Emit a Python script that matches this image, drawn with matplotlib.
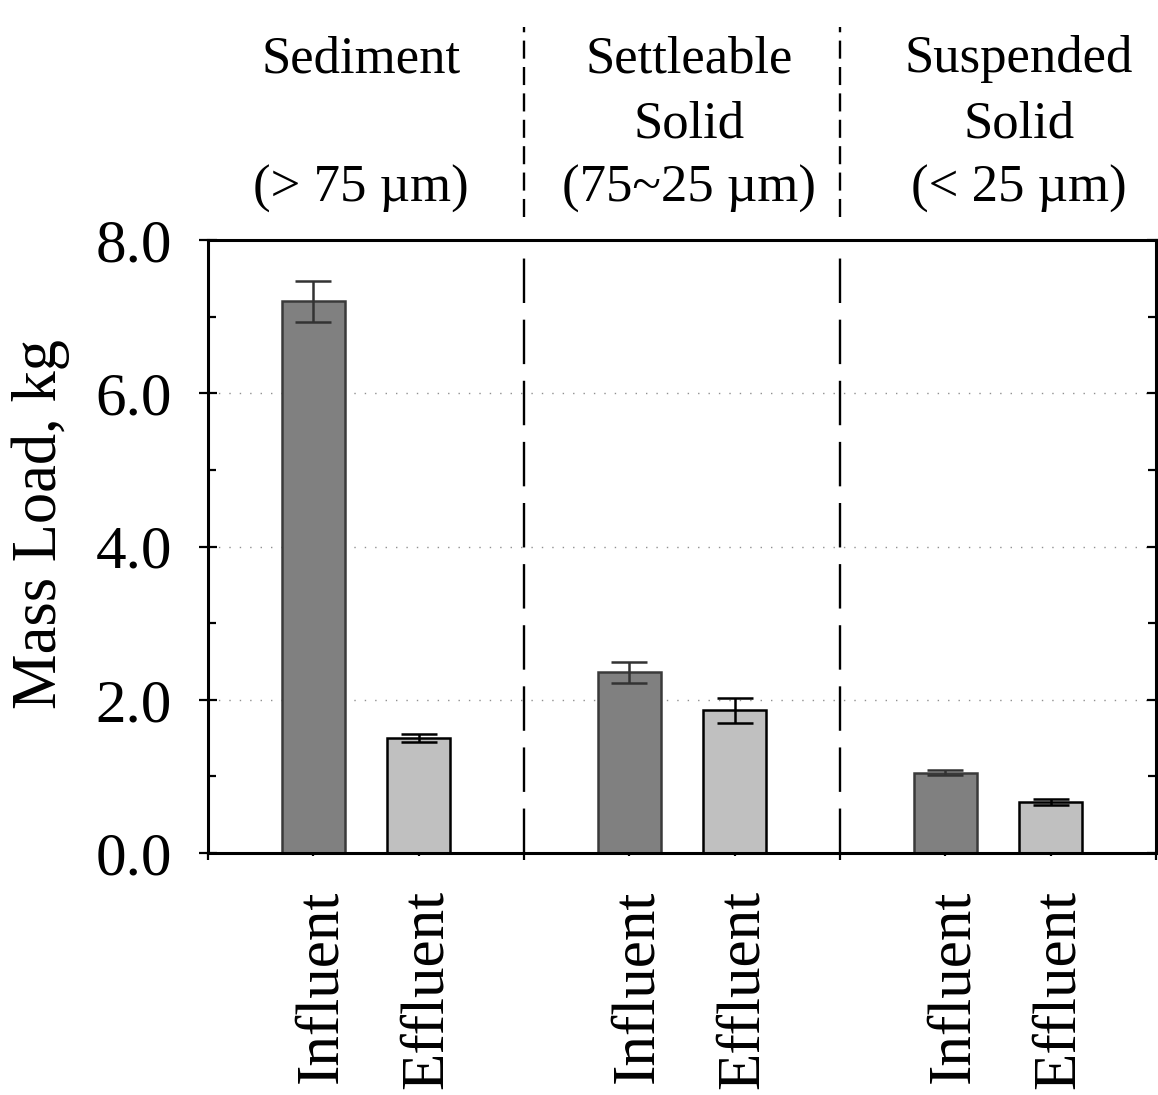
"""Mass load of sediment / settleable / suspended solids, influent vs effluent."""

import matplotlib

matplotlib.use("Agg")
import matplotlib.pyplot as plt
from matplotlib.transforms import ScaledTranslation

plt.rcParams["font.family"] = "serif"
plt.rcParams["font.serif"] = ["Liberation Serif", "DejaVu Serif"]
plt.rcParams["lines.scale_dashes"] = False

# data
groups = ["Sediment\n\n(> 75 µm)", "Settleable\nSolid\n(75~25 µm)", "Suspended\nSolid\n(< 25 µm)"]
sample_labels = ["Influent", "Effluent"]
influent = [7.20, 2.36, 1.05]
influent_err = [0.27, 0.135, 0.03]
effluent = [1.50, 1.86, 0.67]
effluent_err = [0.05, 0.16, 0.04]
y_ticks = [0.0, 2.0, 4.0, 6.0, 8.0]

INF_COLOR, INF_EDGE = "#808080", "#3a3a3a"
EFF_COLOR, EFF_EDGE = "#c0c0c0", "#000000"

fig = plt.figure(figsize=(11.58, 10.95), dpi=100)
ax = fig.add_axes([208 / 1158, 1 - 853 / 1095, 948 / 1158, 613 / 1095])

x_inf = [3 * i + 1 for i in range(len(groups))]
x_eff = [3 * i + 2 for i in range(len(groups))]

ax.bar(x_inf, influent, width=0.6, color=INF_COLOR, edgecolor=INF_EDGE, lw=1.8,
       yerr=influent_err, zorder=2,
       error_kw=dict(ecolor="#333333", elinewidth=1.8, capsize=13, capthick=1.8))
ax.bar(x_eff, effluent, width=0.6, color=EFF_COLOR, edgecolor=EFF_EDGE, lw=1.8,
       yerr=effluent_err, zorder=2,
       error_kw=dict(ecolor="#000000", elinewidth=1.8, capsize=13, capthick=1.8))

ax.set_xlim(0, 9)
ax.set_ylim(0, 8)

# group separators inside the plot and through the header area
for xb in (3, 6):
    ax.axvline(xb, color="black", lw=1.7, dashes=(32, 12), zorder=1)
    ax.plot([xb, xb], [1.0375, 1.347], transform=ax.get_xaxis_transform(),
            color="black", lw=1.7, dashes=(13, 6), clip_on=False)

# group headers, one line at a time
header_x = [1.45, 4.57, 7.70]
line_y = [1.274, 1.168, 1.062]
for gx, name in zip(header_x, groups):
    for ly, line in zip(line_y, name.split("\n")):
        if line:
            ax.text(gx, ly, line, transform=ax.get_xaxis_transform(),
                    ha="center", va="baseline", fontsize=38)

# y axis
ax.set_yticks(y_ticks, [f"{v:.1f}" for v in y_ticks])
ax.set_yticks([1, 3, 5, 7], minor=True)
ax.tick_params(axis="y", which="major", direction="inout", length=13, width=1.6,
               labelsize=44, pad=19.5, right=True)
ax.tick_params(axis="y", which="minor", direction="in", length=6, width=1.6, right=True)
ax.set_ylabel("Mass Load, kg", fontsize=45)
ax.yaxis.set_label_coords(-0.1456, 0.537)

# x axis: boundaries as major ticks, bar centres as labelled minor ticks
ax.set_xticks([0, 3, 6, 9], [])
ax.set_xticks(x_inf + x_eff, [sample_labels[0]] * 3 + [sample_labels[1]] * 3, minor=True)
ax.tick_params(axis="x", which="major", direction="out", length=5, width=1.6)
ax.tick_params(axis="x", which="minor", direction="out", length=2, width=1.6,
               labelsize=44, pad=24.5, labelrotation=90)
shift = ScaledTranslation(8 / 100, 0, fig.dpi_scale_trans)
for lbl in ax.get_xticklabels(minor=True):
    lbl.set_transform(lbl.get_transform() + shift)

ax.grid(axis="y", which="major", color="#909090", lw=1.0, linestyle=(0, (1, 6.5)))
ax.set_axisbelow(True)
for spine in ax.spines.values():
    spine.set_linewidth(2.2)

fig.savefig("out.png", dpi=100)
